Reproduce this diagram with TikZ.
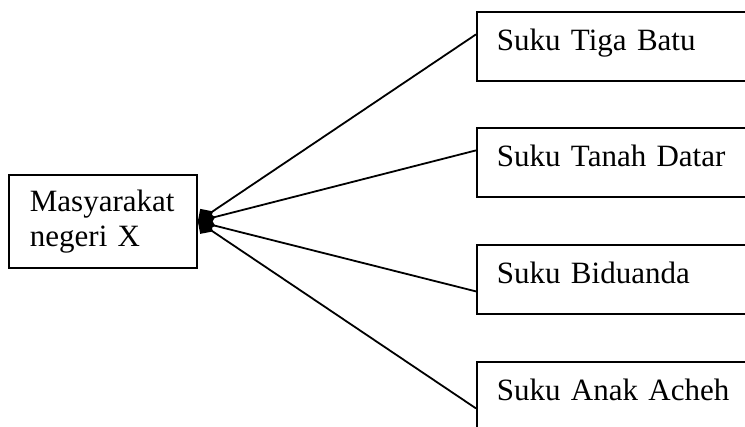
\documentclass[tikz,border=0pt]{standalone}
\usepackage{fontspec}
\setmainfont{Liberation Serif}
\usepackage{tikz}
\usetikzlibrary{arrows.meta}
\usetikzlibrary{shapes}
\usetikzlibrary{positioning}

\begin{document}
\begin{tikzpicture}[x=1pt, y=-1pt]
        \tikzset{every node/.style={rectangle, draw, line width=1.8pt, anchor=north west,
                    align=left, font=\fontsize{31}{35}\selectfont},
                suku/.style={minimum height=69pt, text width=300pt, inner xsep=20pt,
                    inner ysep=0pt, text height=22pt, text depth=13pt},
                >={Diamond[length=18pt,width=18pt]},
                every edge/.style={draw=black,line width=1.8pt}}
        \useasboundingbox (0,0) rectangle (745,427);

        \node[minimum height=93pt, text width=146pt, inner xsep=21pt] (1) at (8, 174) {Masyarakat\\negeri X};
        \node[suku] (2) at (476, 11) {Suku Tiga Batu};
        \node[suku] (3) at (476, 127) {Suku Tanah Datar};
        \node[suku] (4) at (476, 244) {Suku Biduanda};
        \node[suku] (5) at (476, 361) {Suku Anak Acheh};

        \path [->] ([yshift=12pt]2.west) edge (1.east);
        \path [->] ([yshift=12pt]3.west) edge (1.east);
        \path [->] ([yshift=-12pt]4.west) edge (1.east);
        \path [->] ([yshift=-12pt]5.west) edge (1.east);

    \end{tikzpicture}
\end{document}
